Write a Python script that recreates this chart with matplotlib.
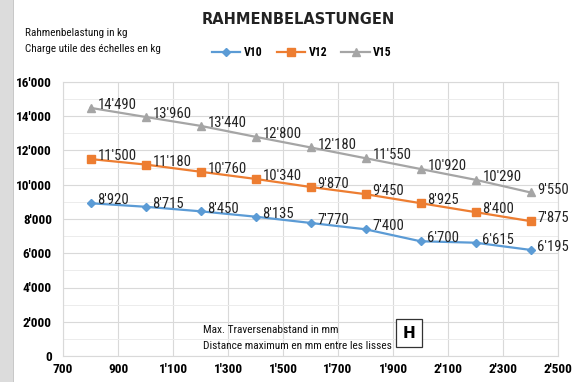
import matplotlib.pyplot as plt
from matplotlib.patches import Rectangle
from matplotlib.ticker import FuncFormatter, MultipleLocator, FixedLocator
from matplotlib import font_manager

# narrow face for the labels if one is installed
names = {f.name for f in font_manager.fontManager.ttflist}
narrow = 'DejaVu Sans'
for cand in ['Liberation Sans Narrow', 'DejaVu Sans Condensed', 'Roboto Condensed']:
    if cand in names:
        narrow = cand
        break
plt.rcParams['font.family'] = [narrow, 'DejaVu Sans']
plt.rcParams['font.stretch'] = 'condensed'

spans = [800, 1000, 1200, 1400, 1600, 1800, 2000, 2200, 2400]
v10 = [8920, 8715, 8450, 8135, 7770, 7400, 6700, 6615, 6195]
v12 = [11500, 11180, 10760, 10340, 9870, 9450, 8925, 8400, 7875]
v15 = [14490, 13960, 13440, 12800, 12180, 11550, 10920, 10290, 9550]
x_ticks = list(range(700, 2501, 200))

series = [
    ('V10', v10, '#5b9bd5', 'D', 4),
    ('V12', v12, '#ed7d31', 's', 6),
    ('V15', v15, '#a5a5a5', '^', 6),
]


def swiss(v, pos=None):
    return f"{int(v):,}".replace(',', "'")


fig = plt.figure(figsize=(5.82, 3.82), dpi=100)
fig.patches.append(Rectangle((0, 0), 13 / 582, 1, transform=fig.transFigure,
                             facecolor='#dcdcdc', edgecolor='none'))
fig.patches.append(Rectangle((13 / 582, 0), 0.002, 1, transform=fig.transFigure,
                             facecolor='#c8c8c8', edgecolor='none'))

ax = fig.add_axes([63 / 582, 26 / 382, 495 / 582, 274 / 382])

for name, vals, col, mk, ms in series:
    ax.plot(spans, vals, color=col, lw=1.6, marker=mk, ms=ms, label=name)
    for x, y in zip(spans, vals):
        ax.annotate(swiss(y), (x, y), xytext=(5, 2), textcoords='offset points',
                    ha='left', va='center', fontsize=10.5, color='#222222')

ax.set_xlim(700, 2500)
ax.set_ylim(0, 16000)
ax.xaxis.set_major_locator(FixedLocator(x_ticks))
ax.yaxis.set_major_locator(MultipleLocator(2000))
ax.yaxis.set_minor_locator(MultipleLocator(1000))
ax.xaxis.set_major_formatter(FuncFormatter(swiss))
ax.yaxis.set_major_formatter(FuncFormatter(swiss))
ax.grid(True, which='major', color='#d9d9d9', lw=0.8)
ax.grid(True, which='minor', axis='y', color='#ececec', lw=0.7)
ax.tick_params(which='both', length=0)
ax.tick_params(axis='y', pad=8)
ax.tick_params(axis='x', pad=5)
for lab in ax.get_xticklabels() + ax.get_yticklabels():
    lab.set_fontweight('bold')
    lab.set_fontsize(9.5)
for s in ax.spines.values():
    s.set_color('#d9d9d9')
    s.set_linewidth(0.8)

fig.text(298 / 582, 1 - 20 / 382, 'RAHMENBELASTUNGEN', ha='center', va='center',
         fontsize=10.5, fontweight='bold', family='DejaVu Sans',
         fontstretch='normal', color='#222222')
fig.text(25 / 582, 1 - 33 / 382, 'Rahmenbelastung in kg', ha='left', va='center',
         fontsize=8, color='#111111')
fig.text(25 / 582, 1 - 49 / 382, 'Charge utile des échelles en kg', ha='left',
         va='center', fontsize=8, color='#111111')

fig.legend(loc='center', bbox_to_anchor=(302 / 582, 1 - 53 / 382), ncol=3,
           frameon=False, handlelength=2.4, columnspacing=1.2,
           handletextpad=0.3, prop={'weight': 'bold', 'size': 8.5})

fig.text(203 / 582, 1 - 330 / 382, 'Max. Traversenabstand in mm', ha='left',
         va='center', fontsize=8.2, color='#111111')
fig.text(203 / 582, 1 - 346 / 382, 'Distance maximum en mm entre les lisses',
         ha='left', va='center', fontsize=8.2, color='#111111')
fig.text(409 / 582, 1 - 333 / 382, 'H', ha='center', va='center', fontsize=11,
         fontweight='bold', family='DejaVu Sans', fontstretch='normal',
         bbox=dict(boxstyle='square,pad=0.45', facecolor='white',
                   edgecolor='#333333', lw=0.9))

fig.savefig('out.png', dpi=100)
